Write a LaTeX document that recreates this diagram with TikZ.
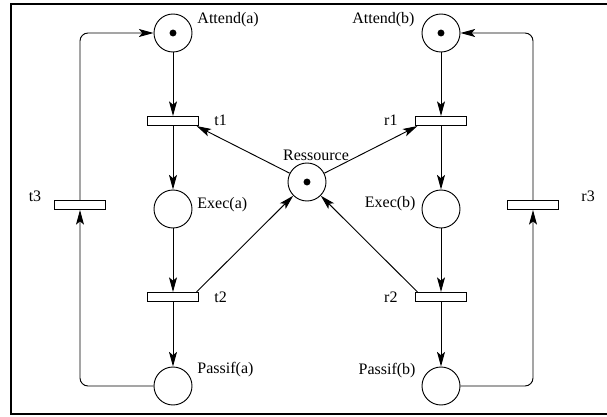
\documentclass[tikz,border=0pt]{standalone}
\usepackage{fontspec}
\setmainfont{Liberation Serif}
\usetikzlibrary{arrows.meta}
\begin{document}
\begin{tikzpicture}[x=0.75pt,y=-0.75pt,line width=0.7pt,
  place/.style={draw,circle,minimum size=28.5pt,inner sep=0pt},
  marked/.style={place,path picture={\fill (path picture bounding box.center) circle (2.6pt);}},
  trans/.style={draw,rectangle,minimum width=38pt,minimum height=6.8pt,inner sep=0pt},
  flow/.style={-{Stealth[length=11pt,width=6pt,inset=2.5pt]}},
  loop/.style={flow,rounded corners=6pt},
  lbl/.style={inner sep=0pt,font=\fontsize{12}{14}\selectfont}]
\useasboundingbox (0,0) rectangle (607,417);
\draw[line width=1.5pt] (11,4) rectangle (612,414);
% process a
\node[marked] (aa) at (173,33) {};
\node[trans] (t1) at (173,121) {};
\node[place] (ea) at (173,209) {};
\node[trans] (t2) at (173,297) {};
\node[place] (pa) at (173,386) {};
\node[trans] (t3) at (80,205) {};
% process b
\node[marked] (ab) at (441,33) {};
\node[trans] (r1) at (441,121) {};
\node[place] (eb) at (441,209) {};
\node[trans] (r2) at (441,297) {};
\node[place] (pb) at (441,386) {};
\node[trans] (r3) at (533,205) {};
% shared resource
\node[marked] (res) at (307,182) {};
% labels
\node[lbl,anchor=west] (laa) at (197,20) {Attend(a)};
\node[lbl,anchor=west] (lt1) at (214,120) {t1};
\node[lbl,anchor=west] (lea) at (197,205) {Exec(a)};
\node[lbl,anchor=west] (lt2) at (214,297) {t2};
\node[lbl,anchor=west] (lpa) at (197,370) {Passif(a)};
\node[lbl] (lt3) at (35,196) {t3};
\node[lbl,anchor=east] (lab) at (415,20) {Attend(b)};
\node[lbl,anchor=east] (lr1) at (398,120) {r1};
\node[lbl,anchor=east] (leb) at (416,204) {Exec(b)};
\node[lbl,anchor=east] (lr2) at (398,297) {r2};
\node[lbl,anchor=east] (lpb) at (416,371) {Passif(b)};
\node[lbl,anchor=west] (lr3) at (581,196) {r3};
\node[lbl] (lres) at (316,155) {Ressource};
% arcs
\draw[flow] (aa) -- (t1);
\draw[flow] (t1) -- (ea);
\draw[flow] (ea) -- (t2);
\draw[flow] (t2) -- (pa);
\draw[flow] (ab) -- (r1);
\draw[flow] (r1) -- (eb);
\draw[flow] (eb) -- (r2);
\draw[flow] (r2) -- (pb);
\draw[flow] (res) -- (t1.-12);
\draw[flow] (res) -- (r1.-168);
\draw[flow] (t2.12) -- (res);
\draw[flow] (r2.168) -- (res);
\draw[loop] (pa.west) -| (t3.south);
\draw[loop] (t3.north) |- (aa.west);
\draw[loop] (pb.east) -| (r3.south);
\draw[loop] (r3.north) |- (ab.east);
\end{tikzpicture}
\end{document}
